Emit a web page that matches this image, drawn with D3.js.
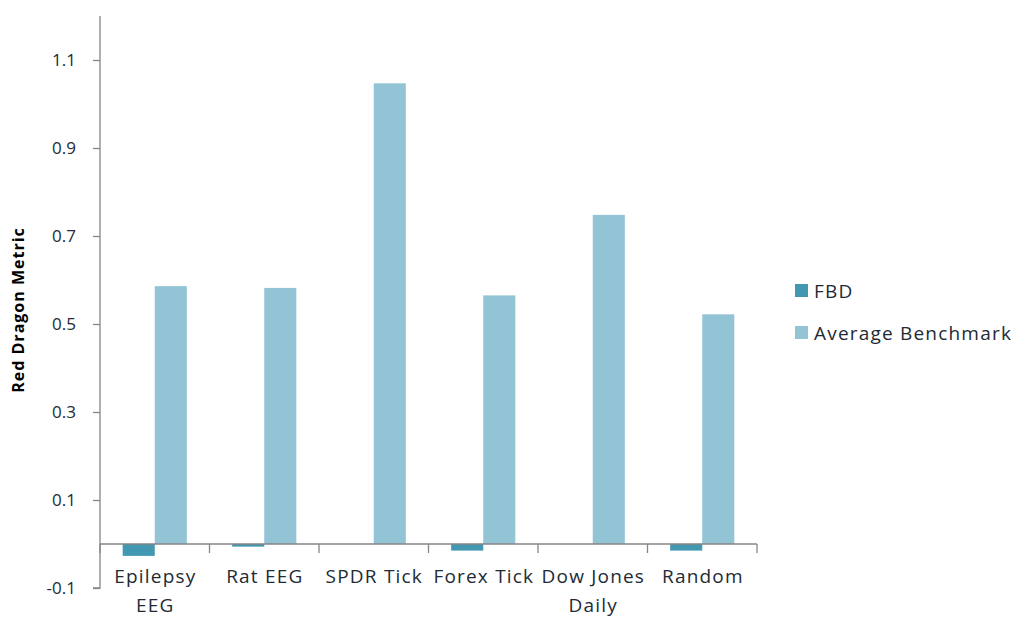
<!DOCTYPE html>
<html>
<head>
<meta charset="utf-8">
<script src="https://cdn.jsdelivr.net/npm/d3@7"></script>
<style>
  body { margin: 0; background: #fff; }
  svg { display: block; font-family: "Open Sans", sans-serif; }
</style>
</head>
<body>
<svg id="chart" width="1021" height="622"></svg>
<script>
// Category labels (line breaks split with "|")
const categories = ["Epilepsy|EEG", "Rat EEG", "SPDR Tick", "Forex Tick", "Dow Jones|Daily", "Random"];
const seriesNames = ["FBD", "Average Benchmark"];
const fbdValues = [-0.027, -0.006, 0, -0.015, 0, -0.015];
const benchmarkValues = [0.586, 0.582, 1.047, 0.565, 0.748, 0.522];
const yTicks = [-0.1, 0.1, 0.3, 0.5, 0.7, 0.9, 1.1];
const colors = ["#4298b1", "#93c4d5"];

const svg = d3.select("#chart");
const margin = { left: 100, right: 264, top: 16, bottom: 34 };
const width = 1021 - margin.left - margin.right;
const height = 622 - margin.top - margin.bottom;

const g = svg.append("g").attr("transform", `translate(${margin.left},${margin.top})`);

const x = d3.scaleBand().domain(categories).range([0, width]).paddingInner(0).paddingOuter(0);
const x1 = d3.scaleBand().domain(seriesNames).range([0, x.bandwidth()]).paddingInner(0).paddingOuter(0.707);
const y = d3.scaleLinear().domain([-0.1, 1.2]).range([height, 0]);

const axisColor = "#868686";
const textColor = "#222a35";
const labelFont = "Open Sans, sans-serif";
const spacing = 1.2;

// bars
const data = categories.map((c, i) => ({ cat: c, vals: [fbdValues[i], benchmarkValues[i]] }));
const groups = g.selectAll("g.cat").data(data).join("g")
  .attr("class", "cat")
  .attr("transform", d => `translate(${x(d.cat)},0)`);
groups.selectAll("rect").data(d => d.vals.map((v, j) => ({ v, s: seriesNames[j], j })))
  .join("rect")
  .attr("x", d => x1(d.s))
  .attr("width", x1.bandwidth())
  .attr("y", d => y(Math.max(0, d.v)))
  .attr("height", d => Math.abs(y(d.v) - y(0)))
  .attr("fill", d => colors[d.j]);

// y axis (plain hyphen for negatives)
const fmt = v => d3.format(".1f")(v).replace("\u2212", "-");
const yAxis = g.append("g")
  .call(d3.axisLeft(y).tickValues(yTicks).tickSize(7).tickPadding(17).tickFormat(fmt));
yAxis.select(".domain").attr("stroke", axisColor).attr("stroke-width", 1.3)
  .attr("d", `M-7,${height}H0V0`);
yAxis.selectAll(".tick line").attr("stroke", axisColor).attr("stroke-width", 1.3);
yAxis.selectAll(".tick text").attr("fill", textColor).style("font-size", "17px").style("font-family", labelFont);

// x axis at zero
const xAxis = g.append("g").attr("transform", `translate(0,${y(0)})`);
xAxis.append("line").attr("x1", 0).attr("x2", width).attr("stroke", axisColor).attr("stroke-width", 1.3);
xAxis.selectAll("line.tk").data(d3.range(categories.length + 1)).join("line")
  .attr("class", "tk")
  .attr("x1", i => i * x.step()).attr("x2", i => i * x.step())
  .attr("y1", 0).attr("y2", 9)
  .attr("stroke", axisColor).attr("stroke-width", 1.3);
xAxis.selectAll("text.lbl").data(categories).join("text")
  .attr("class", "lbl")
  .attr("x", d => x(d) + x.bandwidth() / 2)
  .attr("y", 39)
  .attr("text-anchor", "middle")
  .attr("fill", textColor)
  .style("font-size", "19px")
  .style("letter-spacing", spacing + "px")
  .each(function (d) {
    const lines = d.split("|");
    d3.select(this).selectAll("tspan").data(lines).join("tspan")
      .attr("x", x(d) + x.bandwidth() / 2 + spacing / 2)
      .attr("dy", (l, i) => i === 0 ? 0 : 29)
      .text(l => l);
  });

// y axis title
svg.append("text")
  .attr("transform", `translate(24,310) rotate(-90)`)
  .attr("text-anchor", "middle")
  .attr("fill", "#000")
  .style("font-size", "16px")
  .style("font-weight", "bold")
  .style("letter-spacing", "1px")
  .text("Red Dragon  Metric");

// legend
const legend = svg.append("g").attr("transform", "translate(795,284)");
seriesNames.forEach((s, i) => {
  const row = legend.append("g").attr("transform", `translate(0,${i * 42})`);
  row.append("rect").attr("width", 13).attr("height", 13).attr("fill", colors[i]);
  row.append("text").attr("x", 19).attr("y", 14).attr("fill", textColor)
    .style("font-size", "19px").style("letter-spacing", spacing + "px").text(s);
});
</script>
</body>
</html>
